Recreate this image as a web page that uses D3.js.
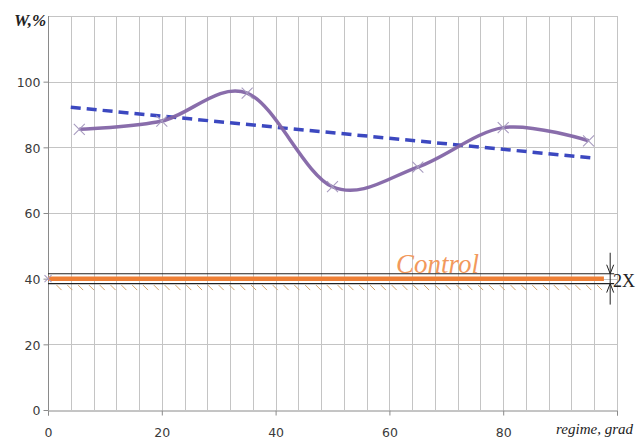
<!DOCTYPE html>
<html>
<head>
<meta charset="utf-8">
<script src="https://cdn.jsdelivr.net/npm/d3@7"></script>
<style>
  body { margin: 0; background: #fff; }
  svg { display: block; }
</style>
</head>
<body>
<svg id="chart" width="639" height="441"></svg>
<script>
// ---- data ----
const regimeX = [5.5, 20, 35, 50, 65, 80, 95];
const moistureW = [85.5, 88, 96.5, 68, 74, 86, 82];
const trendX = [4, 96];
const trendW = [92.2, 76.7];
const controlW = 40;
const controlHalfBand = 1.5;      // the "2X" band
const xTicks = [0, 20, 40, 60, 80];
const yTicks = [0, 20, 40, 60, 80, 100];

let svg = d3.select('#chart');
let margin = {top: 16, right: 22, bottom: 31, left: 48};
let width = 639 - margin.left - margin.right,
    height = 441 - margin.top - margin.bottom;

let x = d3.scaleLinear().domain([0, 100]).range([margin.left, margin.left + width]);
let y = d3.scaleLinear().domain([0, 120]).range([margin.top + height, margin.top]);

// grid
let grid = svg.append('g').attr('stroke', '#c4c4c4').attr('stroke-width', 1);
grid.selectAll('.vx')
    .data(d3.range(4, 101, 4))
    .enter().append('line')
    .attr('x1', d => Math.round(x(d)) + 0.5).attr('x2', d => Math.round(x(d)) + 0.5)
    .attr('y1', y(120)).attr('y2', y(0));
grid.selectAll('.hy')
    .data([20, 40, 60, 80, 100, 120])
    .enter().append('line')
    .attr('x1', x(0)).attr('x2', x(100))
    .attr('y1', d => Math.round(y(d)) + 0.5).attr('y2', d => Math.round(y(d)) + 0.5);

// axes
let xAxis = svg.append('g')
    .attr('transform', 'translate(0,' + (Math.round(y(0)) + 0.5) + ')')
    .call(d3.axisBottom(x).tickValues(xTicks.concat([100])).tickSize(5).tickPadding(13)
          .tickFormat(d => d === 100 ? '' : d));
let yAxis = svg.append('g')
    .attr('transform', 'translate(' + (Math.round(x(0)) + 0.5) + ',0)')
    .call(d3.axisLeft(y).tickValues(yTicks).tickSize(5).tickPadding(3));
[xAxis, yAxis].forEach(a => {
  a.select('.domain').attr('stroke', '#8a8a8a');
  a.selectAll('.tick line').attr('stroke', '#8a8a8a');
  a.selectAll('.tick text').attr('fill', '#3a3a3a')
    .style('font-family', '"DejaVu Sans", Verdana, sans-serif').style('font-size', '12.5px');
});
yAxis.select('.domain').attr('d', 'M0,' + y(0) + 'V' + y(120));
yAxis.selectAll('.tick text').attr('dy', '0.38em');

// axis titles
svg.append('text').attr('x', 14).attr('y', 26)
   .style('font-family', '"Liberation Serif", "Times New Roman", serif')
   .style('font-style', 'italic').style('font-weight', 'bold').style('font-size', '17px')
   .attr('fill', '#222').text('W,%');
svg.append('text').attr('x', 633).attr('y', 434).attr('text-anchor', 'end')
   .style('font-family', '"Liberation Serif", "Times New Roman", serif')
   .style('font-style', 'italic').style('font-size', '15px')
   .attr('fill', '#222').text('regime, grad');

// control band
let band = svg.append('g');
band.selectAll('.hatch')
    .data(d3.range(1.5, 98, 1.9))
    .enter().append('line')
    .attr('x1', d => x(d)).attr('x2', d => x(d) + 5)
    .attr('y1', y(controlW - controlHalfBand) + 1.5).attr('y2', y(controlW - controlHalfBand) + 6.5)
    .attr('stroke', '#d3a46c').attr('stroke-width', 1);
band.selectAll('.edge')
    .data([controlW + controlHalfBand, controlW - controlHalfBand])
    .enter().append('line')
    .attr('x1', x(0)).attr('x2', x(99.5))
    .attr('y1', d => y(d)).attr('y2', d => y(d))
    .attr('stroke', '#222').attr('stroke-width', 1.2);
band.append('line')
    .attr('x1', x(0)).attr('x2', x(97.7))
    .attr('y1', y(controlW)).attr('y2', y(controlW))
    .attr('stroke', '#ee7f35').attr('stroke-width', 4.5);
svg.append('text').attr('x', 396).attr('y', 273)
   .style('font-family', '"Liberation Serif", "Times New Roman", serif')
   .style('font-style', 'italic').style('font-size', '27px')
   .attr('fill', '#f2995c').text('Control');

// 2X dimension
let dx = x(98.8);
let topY = y(controlW + controlHalfBand), botY = y(controlW - controlHalfBand);
let dim = svg.append('g').attr('stroke', '#222').attr('stroke-width', 1).attr('fill', 'none');
dim.append('line').attr('x1', dx).attr('x2', dx).attr('y1', topY - 21).attr('y2', botY + 21);
dim.append('path').attr('d', 'M' + (dx - 3.5) + ',' + (topY - 9) + 'L' + dx + ',' + topY + 'L' + (dx + 3.5) + ',' + (topY - 9));
dim.append('path').attr('d', 'M' + (dx - 3.5) + ',' + (botY + 9) + 'L' + dx + ',' + botY + 'L' + (dx + 3.5) + ',' + (botY + 9));
svg.append('text').attr('x', 613).attr('y', 287)
   .style('font-family', '"Liberation Serif", "Times New Roman", serif')
   .style('font-size', '18px').attr('fill', '#222').text('2X');

// trend line
svg.append('path')
   .datum(trendX.map((d, i) => [d, trendW[i]]))
   .attr('d', d3.line().x(d => x(d[0])).y(d => y(d[1])))
   .attr('fill', 'none').attr('stroke', '#3c48c0').attr('stroke-width', 3.5)
   .attr('stroke-dasharray', '10,6');

// smoothed series
svg.append('path')
   .datum(regimeX.map((d, i) => [d, moistureW[i]]))
   .attr('d', d3.line().x(d => x(d[0])).y(d => y(d[1])).curve(d3.curveCardinal.tension(0)))
   .attr('fill', 'none').attr('stroke', '#8365a6').attr('stroke-width', 3.5)
   .attr('stroke-opacity', 0.95);

// markers
let mk = svg.append('g').attr('stroke', '#a89cc0').attr('stroke-width', 1.1);
regimeX.concat([0]).forEach((d, i) => {
  let cx = x(d), cy = y(i < moistureW.length ? moistureW[i] : controlW), r = i < moistureW.length ? 5.5 : 3.5;
  mk.append('path').attr('d', 'M' + (cx - r) + ',' + (cy - r) + 'L' + (cx + r) + ',' + (cy + r) +
                         'M' + (cx - r) + ',' + (cy + r) + 'L' + (cx + r) + ',' + (cy - r));
});
</script>
</body>
</html>
